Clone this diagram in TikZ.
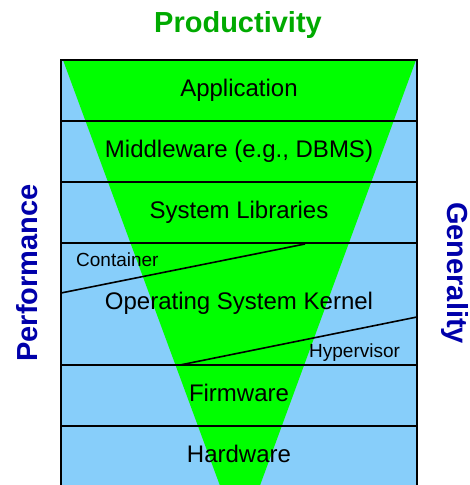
\documentclass[tikz,border=0pt]{standalone}
\usepackage{fontspec}
\setmainfont{Liberation Sans}
\definecolor{layerblue}{RGB}{135,206,250}
\definecolor{funnelgreen}{RGB}{0,255,0}
\definecolor{prodgreen}{RGB}{0,170,0}
\definecolor{axisblue}{RGB}{0,0,170}

\begin{document}
\begin{tikzpicture}[x=1pt,y=1pt, every node/.style={inner sep=0pt,anchor=base},
 layer/.style={font=\fontsize{24}{24}\selectfont},
 tag/.style={font=\fontsize{19}{19}\selectfont,anchor=base west},
 axis/.style={font=\fontsize{29}{29}\selectfont\bfseries}]
\useasboundingbox (0,0) rectangle (470,485);
\fill[layerblue] (61,0) rectangle (417,425);
\begin{scope}
\clip (61,0) rectangle (417,425);
\fill[funnelgreen] (63,425) -- (416,425) -- (240,-55) -- cycle;
\end{scope}
\foreach \y in {425,364,303,242,120,59}
 \draw[line width=2pt] (61,\y) -- (417,\y);
\draw[line width=2pt] (61,0) -- (61,425.5) (417,0) -- (417,425.5);
\coordinate (cl) at (61,192);
\coordinate (cr) at (305,241);
\coordinate (hl) at (180,120);
\coordinate (hr) at (417,168);
\draw[line width=1.6pt] (cl) -- (cr);
\draw[line width=1.6pt] (hl) -- (hr);
\node[layer] (app) at (239,388) {Application};
\node[layer] (mid) at (239,327) {Middleware (e.g., DBMS)};
\node[layer] (lib) at (239,266) {System Libraries};
\node[layer] (os) at (239,175) {Operating System Kernel};
\node[layer] (fw) at (239,83) {Firmware};
\node[layer] (hw) at (239,22) {Hardware};
\node[tag] (cont) at (76,218) {Container};
\node[tag] (hyp) at (309,127) {Hypervisor};
\node[axis,text=prodgreen] (prod) at (238,452) {Productivity};
\node[axis,text=axisblue,rotate=90] (perf) at (37,212) {Performance};
\node[axis,text=axisblue,rotate=-90] (gen) at (447,212) {Generality};
\end{tikzpicture}
\end{document}
